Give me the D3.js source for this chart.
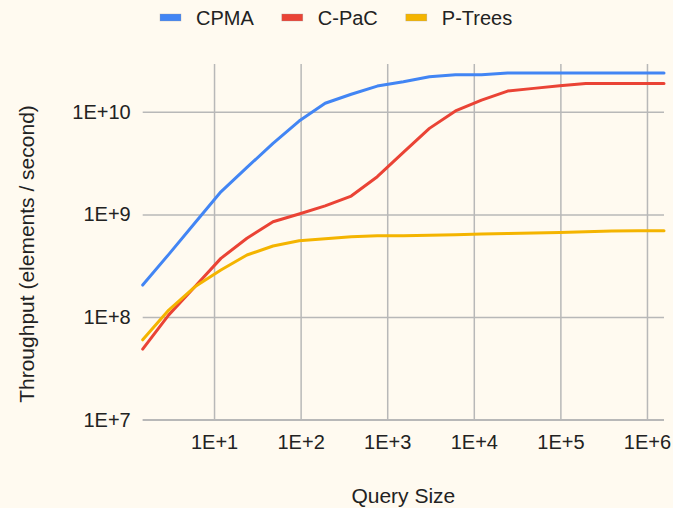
<!DOCTYPE html>
<html>
<head>
<meta charset="utf-8">
<script src="https://cdn.jsdelivr.net/npm/d3@7"></script>
<style>
  html, body { margin: 0; padding: 0; background: #FFFAF0; }
  svg { display: block; }
  text { font-family: "Liberation Sans", Arial, sans-serif; fill: #222; }
</style>
</head>
<body>
<svg id="chart" width="673" height="508"></svg>
<script>
// Query sizes (x) and measured throughput per structure (elements / second)
const querySizes = [1.5, 3, 6, 12, 24, 48, 96, 192, 384, 768, 1536, 3072, 6144,
  12288, 24576, 49152, 98304, 196608, 393216, 786432, 1572864];

const seriesNames = ["CPMA", "C-PaC", "P-Trees"];
const seriesColors = ["#4285F4", "#EA4335", "#F4B400"];

const cpma = [2.05e8, 4.08e8, 8.24e8, 1.66e9, 2.87e9, 4.92e9, 8.11e9, 1.21e10,
  1.48e10, 1.78e10, 1.96e10, 2.19e10, 2.29e10, 2.29e10, 2.38e10, 2.38e10,
  2.38e10, 2.38e10, 2.38e10, 2.38e10, 2.38e10];
const cpac = [4.87e7, 1.05e8, 1.97e8, 3.73e8, 5.85e8, 8.49e8, 1.01e9, 1.21e9,
  1.51e9, 2.33e9, 4.02e9, 6.89e9, 1.02e10, 1.30e10, 1.59e10, 1.69e10,
  1.79e10, 1.89e10, 1.89e10, 1.89e10, 1.89e10];
const ptrees = [6.0e7, 1.17e8, 1.97e8, 2.87e8, 4.02e8, 4.92e8, 5.54e8, 5.80e8,
  6.06e8, 6.19e8, 6.20e8, 6.25e8, 6.34e8, 6.44e8, 6.50e8, 6.58e8,
  6.68e8, 6.78e8, 6.88e8, 6.93e8, 6.93e8];

const xTicks = [1e1, 1e2, 1e3, 1e4, 1e5, 1e6];
const xTickLabels = ["1E+1", "1E+2", "1E+3", "1E+4", "1E+5", "1E+6"];
const yTicks = [1e7, 1e8, 1e9, 1e10];
const yTickLabels = ["1E+7", "1E+8", "1E+9", "1E+10"];
const yMax = 2.92e10;

const xTitle = "Query Size";
const yTitle = "Throughput (elements / second)";

// Layout
const W = 673, H = 508;
const plot = { left: 142.7, right: 664, top: 64, bottom: 419.7 };
const gridColor = "#b8b8b8";
const gridWidth = 1.5;

const svg = d3.select("#chart");
svg.append("rect").attr("width", W).attr("height", H).attr("fill", "#FFFAF0");

const x = d3.scaleLog()
  .domain([querySizes[0], querySizes[querySizes.length - 1]])
  .range([plot.left, plot.right]);
const y = d3.scaleLog()
  .domain([yTicks[0], yMax])
  .range([plot.bottom, plot.top]);

// Horizontal gridlines + y tick labels
const yAxis = d3.axisLeft(y)
  .tickValues(yTicks)
  .tickFormat((d, i) => yTickLabels[i])
  .tickSizeInner(-(plot.right - plot.left))
  .tickSizeOuter(0)
  .tickPadding(12);
const gy = svg.append("g")
  .attr("transform", `translate(${plot.left},0)`)
  .call(yAxis);
gy.select(".domain").remove();
gy.selectAll(".tick line").attr("stroke", gridColor).attr("stroke-width", gridWidth);
gy.selectAll(".tick text").attr("font-size", 20).attr("fill", "#222")
  .style("font-family", "'Liberation Sans', Arial, sans-serif");

// Vertical gridlines + x tick labels
const xAxis = d3.axisBottom(x)
  .tickValues(xTicks)
  .tickFormat((d, i) => xTickLabels[i])
  .tickSizeInner(-(plot.bottom - plot.top))
  .tickSizeOuter(0)
  .tickPadding(15);
const gx = svg.append("g")
  .attr("transform", `translate(0,${plot.bottom})`)
  .call(xAxis);
gx.select(".domain").remove();
gx.selectAll(".tick line").attr("stroke", gridColor).attr("stroke-width", gridWidth);
gx.selectAll(".tick text").attr("font-size", 20).attr("fill", "#222")
  .style("font-family", "'Liberation Sans', Arial, sans-serif");

// Baseline drawn over the vertical gridlines
svg.append("line")
  .attr("x1", plot.left).attr("x2", plot.right)
  .attr("y1", y(yTicks[0])).attr("y2", y(yTicks[0]))
  .attr("stroke", gridColor).attr("stroke-width", gridWidth);

// Series lines
const allSeries = [cpma, cpac, ptrees];
const line = d3.line()
  .x((d, i) => x(querySizes[i]))
  .y(d => y(d));

svg.append("g").selectAll("path")
  .data(allSeries)
  .join("path")
  .attr("d", d => line(d))
  .attr("fill", "none")
  .attr("stroke", (d, i) => seriesColors[i])
  .attr("stroke-width", 3)
  .attr("stroke-linejoin", "round")
  .attr("stroke-linecap", "round");

// Axis titles
svg.append("text")
  .attr("x", (plot.left + plot.right) / 2)
  .attr("y", 503)
  .attr("text-anchor", "middle")
  .attr("font-size", 21)
  .text(xTitle);

svg.append("text")
  .attr("transform", `translate(34,254) rotate(-90)`)
  .attr("text-anchor", "middle")
  .attr("font-size", 21)
  .text(yTitle);

// Legend
const legend = svg.append("g");
let lx = 160;
seriesNames.forEach((name, i) => {
  legend.append("rect")
    .attr("x", lx).attr("y", 14)
    .attr("width", 21).attr("height", 7)
    .attr("fill", seriesColors[i])
    .attr("stroke", "#9a9a9a").attr("stroke-opacity", 0.5).attr("stroke-width", 0.6);
  const t = legend.append("text")
    .attr("x", lx + 36).attr("y", 25)
    .attr("font-size", 20)
    .text(name);
  lx += 36 + t.node().getComputedTextLength() + 28;
});
</script>
</body>
</html>
